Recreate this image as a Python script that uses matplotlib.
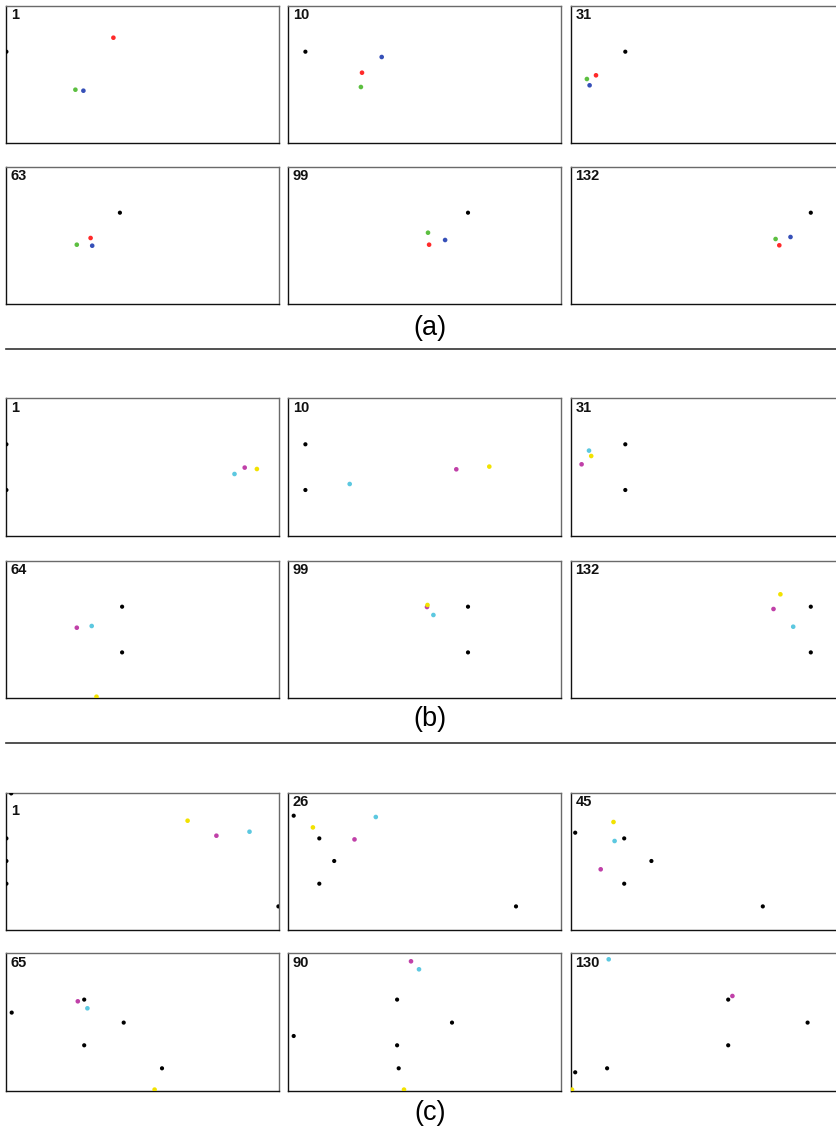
import matplotlib
matplotlib.use("Agg")
import matplotlib.pyplot as plt
from matplotlib.lines import Line2D

plt.rcParams['font.family'] = ['Liberation Sans', 'DejaVu Sans']

# ---------------- data (panel-local coordinates, x right, y down) ----------------
a_frames = [1, 10, 31, 63, 99, 132]
a_black = [[(0, 46)], [(17, 46)], [(54.3, 46)], [(113.5, 46)], [(179.6, 46)], [(239.8, 46)]]
a_red = [(107, 32), (73.6, 67), (25, 69.6), (84.2, 71.3), (140.7, 78), (208.3, 78.6)]
a_green = [(69, 84), (72.5, 81.3), (15.9, 73.3), (70.4, 78), (139.6, 66), (204.6, 72.3)]
a_blue = [(77, 85), (93.3, 51.3), (18.6, 79.6), (85.8, 79), (156.7, 73.3), (219.5, 70.3)]

b_frames = [1, 10, 31, 64, 99, 132]
b_black = [[(0, 46), (0, 91.7)], [(17, 46), (17, 91.7)], [(54.3, 46), (54.3, 91.7)],
           [(115.7, 46), (115.7, 91.7)], [(179.6, 46), (179.6, 91.7)], [(239.8, 46), (239.8, 91.7)]]
b_cyan = [(228.1, 75.7), (61.3, 85.7), (18, 52.3), (85.3, 65.3), (145, 54.3), (222.2, 66)]
b_magenta = [(238.3, 69.3), (167.9, 71), (10.6, 66), (70.4, 67), (138.6, 46.3), (202.5, 48.3)]
b_yellow = [(250.5, 70.7), (200.9, 68.3), (20.2, 57.7), (90.1, 136), (139.1, 44.3), (209.4, 33.6)]

c_frames = [1, 26, 45, 65, 90, 130]
c_black = [
    [(4.8, 0.7), (0, 45.7), (0, 68.3), (0, 91), (272, 113.7)],
    [(5.3, 23), (30.9, 45.7), (45.8, 68.3), (30.9, 91), (227.6, 113.7)],
    [(4.2, 40), (53.2, 45.7), (80.4, 68.3), (53.2, 91), (191.8, 113.7)],
    [(5.3, 59.3), (77.8, 46.3), (117.3, 69.3), (77.8, 92), (155.6, 115)],
    [(5.3, 82.7), (108.7, 46.3), (163.6, 69.3), (108.7, 92), (110.3, 115)],
    [(4.2, 119), (36.1, 115), (157.2, 46.3), (236.6, 69.3), (157.2, 92)],
]
c_cyan = [(243.1, 39), (87.4, 24.3), (43.6, 48.3), (81, 55), (130.6, 16), (37.7, 6)]
c_magenta = [(210, 43), (66.1, 46.7), (29.7, 76.6), (71.4, 48), (122.6, 8), (161.4, 42.7)]
c_yellow = [(181.2, 28), (24.5, 34.7), (42.5, 29.3), (148.2, 136.3), (115.6, 136.3), (1, 136.3)]

section_labels = ['(a)', '(b)', '(c)']

# ---------------- styling ----------------
COL_RED = '#ff2a2a'
COL_GREEN = '#5cbf40'
COL_BLUE = '#3650b8'
COL_CYAN = '#5cc8e0'
COL_MAGENTA = '#c040a8'
COL_YELLOW = '#f2e200'

W, H = 836, 1131
fig = plt.figure(figsize=(W / 100, H / 100), dpi=100)

col_left = [6.4, 288.4, 571.0]
panel_w = 273.0
panel_h = 137.5
row_tops = [[5.7, 166.7], [398.3, 560.7], [792.7, 953.3]]
label_y = [328, 718.5, 1113]
sep_y = [349.3, 742.7]

sections = [
    (a_frames, a_black, [(a_red, COL_RED), (a_green, COL_GREEN), (a_blue, COL_BLUE)]),
    (b_frames, b_black, [(b_cyan, COL_CYAN), (b_magenta, COL_MAGENTA), (b_yellow, COL_YELLOW)]),
    (c_frames, c_black, [(c_cyan, COL_CYAN), (c_magenta, COL_MAGENTA), (c_yellow, COL_YELLOW)]),
]


def make_axes(x0, y0):
    ax = fig.add_axes([x0 / W, 1 - (y0 + panel_h) / H, panel_w / W, panel_h / H])
    ax.set_xlim(0, panel_w)
    ax.set_ylim(panel_h, 0)
    ax.set_xticks([])
    ax.set_yticks([])
    for side in ['left', 'bottom']:
        ax.spines[side].set_color('#111111')
        ax.spines[side].set_linewidth(1.0)
    for side in ['top', 'right']:
        ax.spines[side].set_color('#6a6a6a')
        ax.spines[side].set_linewidth(1.0)
    return ax


for s, (frames, blacks, colored) in enumerate(sections):
    for i, frame in enumerate(frames):
        r, c = divmod(i, 3)
        ax = make_axes(col_left[c], row_tops[s][r])
        for pts, col in colored:
            x, y = pts[i]
            ax.scatter([x], [y], s=11, color=col, edgecolors='none', zorder=3)
        bx = [p[0] for p in blacks[i]]
        by = [p[1] for p in blacks[i]]
        ax.scatter(bx, by, s=9, color='black', edgecolors='none', zorder=4)
        ty = 11.0 if (s == 2 and i == 0) else 2.5
        ax.text(4.5, ty, str(frame), ha='left', va='top', fontsize=10.5,
                fontweight='bold', color='#111111')
    fig.text(430 / W, 1 - label_y[s] / H, section_labels[s], ha='center', va='center',
             fontsize=19.5, color='black')

for yy in sep_y:
    fig.add_artist(Line2D([6 / W, 1.0], [1 - yy / H, 1 - yy / H], color='#333333',
                          linewidth=1.2, transform=fig.transFigure))

fig.savefig('out.png', dpi=100)
